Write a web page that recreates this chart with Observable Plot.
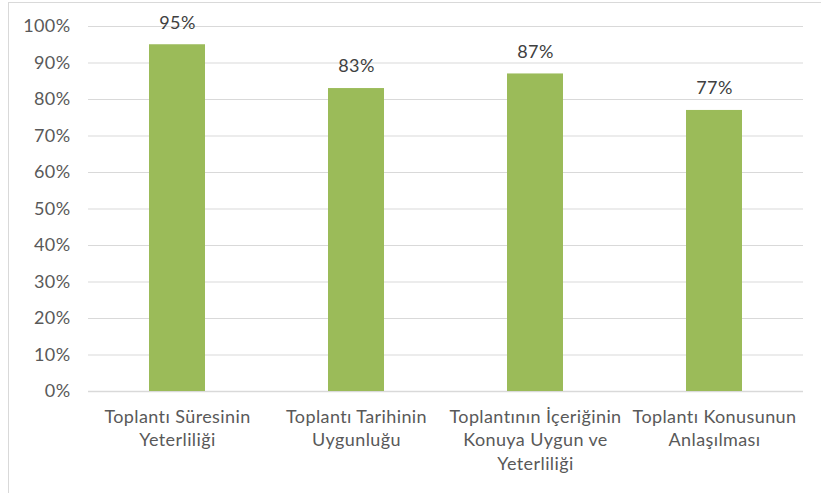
<!DOCTYPE html>
<html>
<head>
<meta charset="utf-8">
<script src="https://cdn.jsdelivr.net/npm/d3@7"></script>
<script src="https://cdn.jsdelivr.net/npm/@observablehq/plot@0.6"></script>
<style>
  html, body { margin: 0; padding: 0; background: #fff; }
  #frame { position: absolute; left: 8px; top: 2px; width: 830px; height: 520px; border: 1.5px solid #d9d9d9; box-sizing: border-box; }
  #chart { position: absolute; left: 0; top: 0; }
  #chart text { letter-spacing: 0.4px; }
</style>
</head>
<body>
<div id="frame"></div>
<div id="chart"></div>
<script>
const categories = [
  "Toplantı Süresinin\nYeterliliği",
  "Toplantı Tarihinin\nUygunluğu",
  "Toplantının İçeriğinin\nKonuya Uygun ve\nYeterliliği",
  "Toplantı Konusunun\nAnlaşılması"
];
const values = [0.95, 0.83, 0.87, 0.77];
const yTicks = [0, 0.1, 0.2, 0.3, 0.4, 0.5, 0.6, 0.7, 0.8, 0.9, 1.0];

const data = categories.map((c, i) => ({category: c, value: values[i]}));
const pct = d => Math.round(d * 100) + "%";

const chart = Plot.plot({
  width: 821,
  height: 493,
  marginLeft: 88,
  marginRight: 18,
  marginTop: 26,
  marginBottom: 102,
  style: {fontFamily: "Lato, sans-serif", fontSize: "18px", color: "#595959", background: "transparent"},
  x: {domain: categories, paddingInner: 0.687, paddingOuter: 0.34, label: null},
  y: {domain: [0, 1], label: null},
  marks: [
    Plot.gridY(yTicks, {stroke: "#d9d9d9", strokeOpacity: 1, strokeWidth: 1}),
    Plot.ruleY([0], {stroke: "#d9d9d9", strokeWidth: 1.5}),
    Plot.barY(data, {x: "category", y: "value", fill: "#9bbb59"}),
    Plot.text(data, {x: "category", y: "value", text: d => pct(d.value), dy: -22, fill: "#404040", fontSize: 18}),
    Plot.axisY(yTicks, {tickFormat: pct, tickSize: 0, tickPadding: 18, fill: "#595959", fontSize: 18, label: null}),
    Plot.axisX({tickSize: 0, tickPadding: 14, fill: "#595959", fontSize: 18, lineHeight: 1.33, label: null, textAnchor: "middle"})
  ]
});
document.getElementById("chart").appendChild(chart);
</script>
</body>
</html>
